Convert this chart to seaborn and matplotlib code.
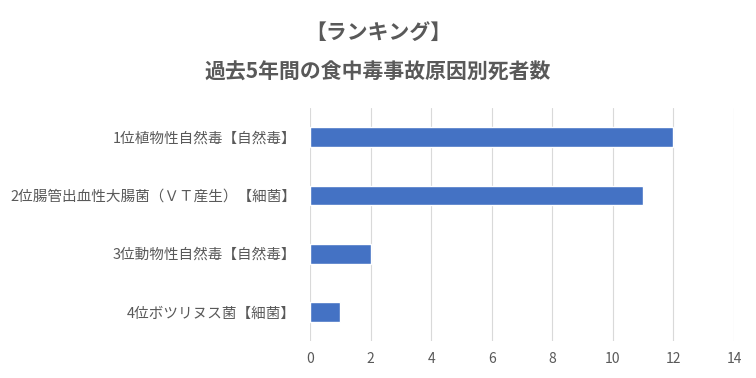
import matplotlib
matplotlib.use("Agg")
import matplotlib.pyplot as plt
import seaborn as sns
import pandas as pd

categories = [
    "1位植物性自然毒【自然毒】",
    "2位腸管出血性大腸菌（ＶＴ産生）【細菌】",
    "3位動物性自然毒【自然毒】",
    "4位ボツリヌス菌【細菌】",
]
values = [12, 11, 2, 1]
xticks = [0, 2, 4, 6, 8, 10, 12, 14]

sns.set_theme(style="white")
plt.rcParams["font.family"] = ["Noto Sans CJK JP", "DejaVu Sans"]

df = pd.DataFrame({"cat": categories, "val": values})

fig = plt.figure(figsize=(7.56, 3.78), dpi=100)
ax = fig.add_axes([0.410, 0.098, 0.561, 0.616])
sns.barplot(data=df, x="val", y="cat", color="#4472C4", width=0.34,
            saturation=1, ax=ax, zorder=3)
ax.set_xlim(0, 14)
ax.set_xticks(xticks)
ax.set_xlabel("")
ax.set_ylabel("")
ax.grid(axis="x", color="#D9D9D9", linewidth=0.8, zorder=0)
ax.grid(axis="y", visible=False)
for s in ax.spines.values():
    s.set_visible(False)
ax.tick_params(axis="x", colors="#595959", labelsize=10, length=0, pad=8)
ax.tick_params(axis="y", colors="#595959", labelsize=10.5, length=0, pad=10)
for lbl in ax.get_xticklabels() + ax.get_yticklabels():
    lbl.set_color("#595959")

fig.text(0.5, 1 - 32 / 378, "【ランキング】", ha="center", va="center",
         fontsize=15, fontweight="bold", color="#595959")
fig.text(0.5, 1 - 72 / 378, "過去5年間の食中毒事故原因別死者数", ha="center", va="center",
         fontsize=15, fontweight="bold", color="#595959")

fig.savefig("out.png", dpi=100)
